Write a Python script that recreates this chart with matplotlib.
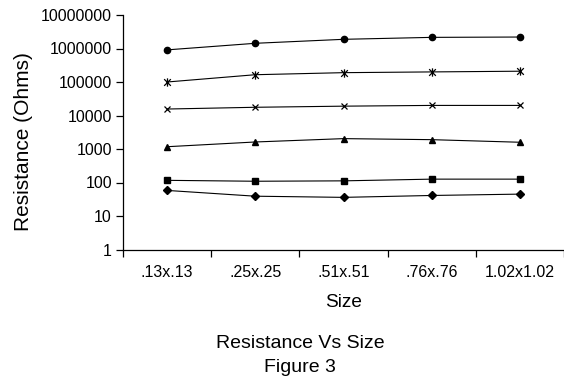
import matplotlib
matplotlib.use("Agg")
import matplotlib.pyplot as plt
from matplotlib.path import Path
from matplotlib.ticker import FixedLocator, NullLocator, FixedFormatter

plt.rcParams['font.family'] = ['Liberation Sans', 'DejaVu Sans']

categories = ['.13x.13', '.25x.25', '.51x.51', '.76x.76', '1.02x1.02']
series_circle = [910000, 1430000, 1880000, 2150000, 2200000]
series_star = [100000, 165000, 190000, 200000, 210000]
series_x = [15600, 17600, 19000, 20000, 20000]
series_triangle = [1170, 1620, 2040, 1900, 1590]
series_square = [116, 109, 112, 126, 126]
series_diamond = [58, 39, 36, 41, 45]
ytick_values = [1, 10, 100, 1000, 10000, 100000, 1000000, 10000000]
ytick_labels = ['1', '10', '100', '1000', '10000', '100000', '1000000', '10000000']

star_marker = Path(
    [(-1, -1), (1, 1), (-1, 1), (1, -1), (0, -1.25), (0, 1.25)],
    [Path.MOVETO, Path.LINETO, Path.MOVETO, Path.LINETO, Path.MOVETO, Path.LINETO])

fig = plt.figure(figsize=(5.64, 3.77), dpi=100)
ax = fig.add_axes([123/564, 1-249.5/377, 441/564, (249.5-15)/377])

x = list(range(len(categories)))
lw = 0.8
ax.plot(x, series_circle, color='black', lw=lw, marker='o', ms=4.5, mfc='black', mec='black')
ax.plot(x, series_star, color='black', lw=lw, marker=star_marker, ms=6, mec='black', mew=0.9)
ax.plot(x, series_x, color='black', lw=lw, marker='x', ms=5, mec='black', mew=0.9)
ax.plot(x, series_triangle, color='black', lw=lw, marker='^', ms=5, mfc='black', mec='black')
ax.plot(x, series_square, color='black', lw=lw, marker='s', ms=4.3, mfc='black', mec='black')
ax.plot(x, series_diamond, color='black', lw=lw, marker='D', ms=3.8, mfc='black', mec='black')

ax.set_yscale('log')
ax.set_ylim(1, 10000000)
ax.yaxis.set_major_locator(FixedLocator(ytick_values))
ax.yaxis.set_major_formatter(FixedFormatter(ytick_labels))
ax.yaxis.set_minor_locator(NullLocator())

ax.set_xlim(-0.5, len(categories) - 0.5)
ax.set_xticks([i - 0.5 for i in range(len(categories) + 1)])
ax.set_xticklabels([])
ax.set_xticks(x, minor=True)
ax.set_xticklabels(categories, minor=True)
ax.tick_params(axis='x', which='minor', length=0, pad=11, labelsize=11.5)
ax.tick_params(axis='x', which='major', length=5, width=0.9, direction='out')
ax.tick_params(axis='y', which='major', length=5, width=0.9, direction='out', labelsize=11.5, pad=3)

for s in ['top', 'right']:
    ax.spines[s].set_visible(False)
for s in ['left', 'bottom']:
    ax.spines[s].set_linewidth(0.9)

ax.set_xlabel('Size', fontsize=13.7)
ax.xaxis.set_label_coords(0.5, (249.5 - 294) / (249.5 - 15))
ax.set_ylabel('Resistance (Ohms)', fontsize=15)
ax.yaxis.set_label_coords((33 - 123) / 441, (249.5 - 142) / (249.5 - 15))

fig.text(300 / 564, 1 - 348.3 / 377, 'Resistance Vs Size', ha='center', va='baseline', fontsize=14)
fig.text(300 / 564, 1 - 371.7 / 377, 'Figure 3', ha='center', va='baseline', fontsize=14)

fig.savefig('out.png', dpi=100)
